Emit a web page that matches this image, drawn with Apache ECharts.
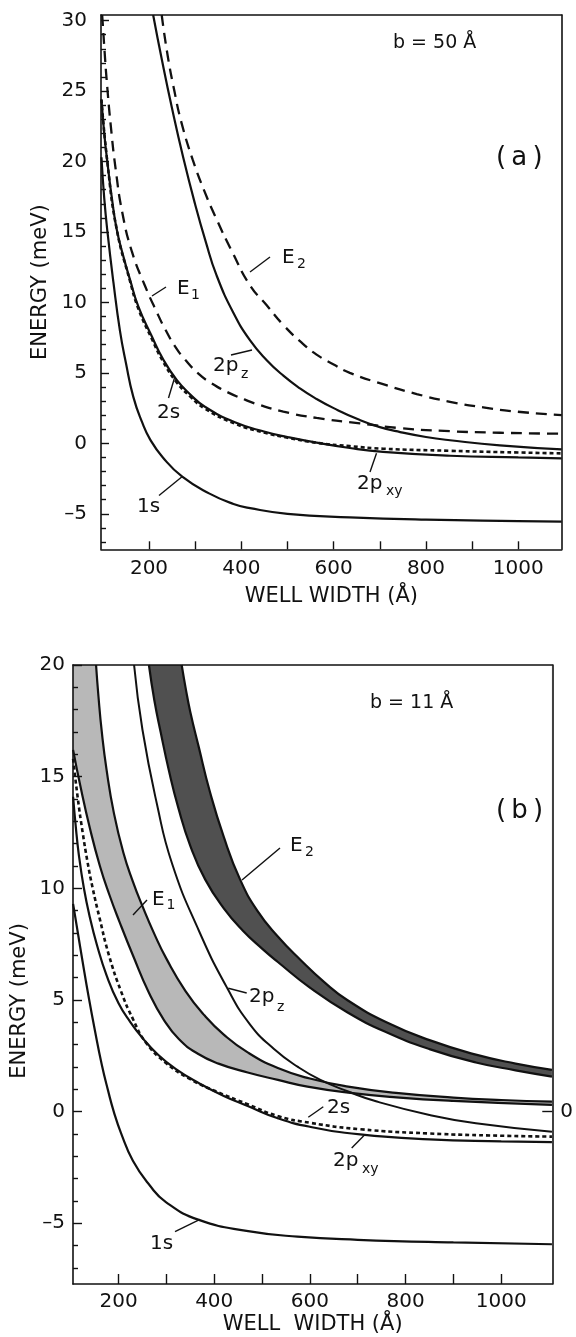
<!DOCTYPE html>
<html><head><meta charset="utf-8">
<script src="https://cdn.jsdelivr.net/npm/echarts@6/dist/echarts.min.js"></script>
<style>html,body{margin:0;padding:0;background:#fff}#c{width:576px;height:1337px}</style>
</head><body><div id="c"></div>
<script>
// ---------- tick values ----------
const xTicks = [200,300,400,500,600,700,800,900,1000];
const xLabels = [200,400,600,800,1000];
const aYMajor = [-5,0,5,10,15,20,25,30];
const aYMinor = [-7,-6,-4,-3,-2,-1,1,2,3,4,6,7,8,9,11,12,13,14,16,17,18,19,21,22,23,24,26,27,28,29];
const bYMajor = [-5,0,5,10,15,20];
const bYMinor = [-7,-6,-4,-3,-2,-1,1,2,3,4,6,7,8,9,11,12,13,14,16,17,18,19];
const bRightMark = [0];

// ---------- panel (a): b = 50 Å ----------
const a_1s = [[97,20.3],[103,17.4],[110,15.0],[123,11.4],[137,8.0],[150,5.7],[166,3.3],[185,1.5],[202,0.3],[230,-1.0],[272,-2.37],[330,-3.55],[383,-4.3],[419,-4.6],[500,-5.0],[635,-5.25],[800,-5.42],[1000,-5.52],[1094,-5.56]];
const a_2pxy = [[97,24.4],[103,22.0],[110,19.9],[120,17.3],[130,15.2],[145,13.2],[159,11.6],[177,9.7],[206,7.6],[230,6.0],[260,4.5],[290,3.45],[321,2.6],[386,1.5],[451,0.82],[500,0.45],[563,0.05],[635,-0.33],[707,-0.6],[852,-0.88],[1000,-1.0],[1094,-1.06]];
const a_2s = [[97,24.4],[110,19.9],[130,15.2],[159,11.5],[177,9.55],[206,7.42],[230,5.83],[260,4.33],[290,3.3],[321,2.46],[386,1.4],[451,0.75],[500,0.4],[563,0.04],[635,-0.2],[707,-0.38],[852,-0.53],[1000,-0.65],[1094,-0.71]];
const a_E1 = [[98.5,30.4],[101,29.2],[104,27.7],[108,25.9],[117,22.6],[128,19.4],[142,16.4],[163,13.6],[191,11.2],[217,9.3],[235,8.1],[256,6.9],[278,5.95],[307,4.95],[336,4.25],[372,3.6],[408,3.1],[437,2.75],[491,2.25],[563,1.8],[657,1.42],[744,1.08],[852,0.86],[960,0.75],[1094,0.68]];
const a_2pz = [[209,30.4],[228,27.2],[249,23.9],[274,20.3],[300,16.95],[323,14.3],[346,11.95],[383,9.25],[419,7.3],[455,5.9],[491,4.8],[527,3.9],[563,3.15],[600,2.5],[657,1.65],[700,1.15],[744,0.8],[800,0.45],[852,0.22],[960,-0.15],[1094,-0.43]];
const a_E2 = [[227.5,30.4],[240,27.6],[255,25.0],[270,22.8],[295,20.1],[320,17.9],[345,16.0],[380,13.6],[419,11.2],[455,9.8],[491,8.4],[527,7.25],[563,6.3],[600,5.6],[635,5.0],[707,4.2],[780,3.5],[852,2.95],[924,2.55],[997,2.25],[1094,2.0]];

// ---------- panel (b): b = 11 Å ----------
const b_1s = [[105,9.3],[115,8.0],[125,6.7],[137,5.2],[150,3.7],[165,2.1],[178,0.95],[190,0.0],[205,-0.95],[230,-2.2],[265,-3.3],[299,-4.05],[368,-4.85],[471,-5.35],[574,-5.6],[700,-5.74],[900,-5.86],[1106,-5.94]];
const b_2pxy = [[105,14.1],[110,12.9],[117,11.5],[127.6,10.0],[140,8.7],[155,7.45],[175,6.1],[200,4.85],[225,4.0],[250,3.3],[280,2.6],[320,1.9],[370,1.25],[420,0.7],[470,0.25],[533,-0.3],[600,-0.68],[705,-1.02],[850,-1.24],[1000,-1.33],[1106,-1.37]];
const b_2s = [[105,15.8],[115,14.0],[125,12.5],[135,11.2],[146,10.0],[160,8.7],[180,7.0],[205,5.4],[230,4.15],[257,3.1],[299,2.18],[350,1.45],[402,0.92],[470,0.33],[533,-0.2],[600,-0.5],[705,-0.79],[850,-0.98],[1000,-1.08],[1106,-1.12]];
const b_2pz = [[232.5,20],[250,17.1],[280,13.8],[312,11.1],[368,8.1],[428,5.5],[475,3.9],[525,2.8],[575,2.0],[622,1.42],[680,0.9],[740,0.45],[850,-0.15],[947,-0.52],[1106,-0.9]];
const b_E1lo = [[105,16.2],[120,14.6],[140,12.7],[161,11.0],[181,9.7],[202,8.5],[230,7.0],[264,5.3],[295,4.1],[326,3.25],[365,2.6],[409,2.15],[470,1.75],[533,1.42],[595,1.12],[680,0.85],[781,0.64],[900,0.48],[1106,0.3]];
const b_E1hi = [[153,20],[158,18.6],[165,17.0],[175,15.3],[190,13.4],[210,11.6],[230,10.3],[250,9.2],[275,7.95],[300,6.85],[340,5.4],[380,4.3],[420,3.45],[470,2.65],[533,1.95],[600,1.48],[680,1.12],[780,0.84],[900,0.63],[1000,0.52],[1106,0.45]];
const b_E2lo = [[263.5,20],[275,18.4],[288,17.0],[305,15.3],[325,13.6],[350,11.9],[381,10.4],[420,9.1],[460,8.1],[500,7.3],[533,6.7],[600,5.55],[678,4.45],[760,3.55],[850,2.8],[947,2.2],[1030,1.85],[1106,1.57]];
const b_E2hi = [[332,20],[340,19.0],[350,17.9],[368,16.3],[390,14.4],[420,12.3],[454,10.4],[490,9.0],[533,7.84],[580,6.8],[630,5.8],[678,5.0],[760,4.0],[850,3.2],[947,2.55],[1030,2.15],[1106,1.87]];

// ---------- styling ----------
const FONT = 'DejaVu Sans';
const INK = '#111';
const SOLID = 'solid', DASH = [11,7], DOT = [4,3];
const fmt = v => (v < 0 ? '\u2013' + (-v) : String(v));

function line(data, xi, yi, dash, opts) {
  opts = opts || {};
  return {
    type: 'line', data: data, xAxisIndex: xi, yAxisIndex: yi,
    showSymbol: false, symbol: 'none', smooth: 0.5, clip: true,
    animation: false, silent: true, z: opts.z || 5,
    lineStyle: { color: INK, width: opts.width || 2.2, type: dash, opacity: opts.noLine ? 0 : 1 },
    areaStyle: opts.area ? { color: opts.area, opacity: 1, origin: 'end' } : undefined
  };
}

function xAxisCfg(grid, min, max, pos, main, tickLen, margin, name, gap) {
  const c = {
    gridIndex: grid, type: 'value', min: min, max: max, position: pos, z: 10,
    axisLine: { show: true, onZero: false, lineStyle: { color: INK, width: 1.6 } },
    splitLine: { show: false },
    axisTick: { show: false }, axisLabel: { show: false }
  };
  if (main) {
    c.axisTick = { show: true, inside: true, length: tickLen, customValues: xTicks, lineStyle: { color: INK, width: 1.4 } };
    c.axisLabel = { show: true, customValues: xLabels, formatter: fmt, margin: margin, color: INK, fontSize: 20, fontFamily: FONT };
    c.name = name; c.nameLocation = 'middle'; c.nameGap = gap;
    c.nameTextStyle = { color: INK, fontSize: 21, fontFamily: FONT };
  }
  return c;
}
function yAxisCfg(grid, min, max, pos, o) {
  return {
    gridIndex: grid, type: 'value', min: min, max: max, position: pos, z: 10,
    axisLine: { show: !!o.line, onZero: false, lineStyle: { color: INK, width: 1.6 } },
    splitLine: { show: false },
    axisTick: o.ticks ? { show: true, inside: true, length: o.tickLen, customValues: o.ticks, lineStyle: { color: INK, width: 1.4 } } : { show: false },
    axisLabel: o.labels ? { show: true, customValues: o.labels, formatter: fmt, margin: o.margin, color: INK, fontSize: 20, fontFamily: FONT } : { show: false },
    name: o.name, nameLocation: 'middle', nameGap: o.nameGap, nameRotate: 90,
    nameTextStyle: { color: INK, fontSize: 21, fontFamily: FONT }
  };
}

const A = { xmin: 96, xmax: 1094, ymin: -7.52, ymax: 30.4 };
const B = { xmin: 104.8, xmax: 1106.7, ymin: -7.72, ymax: 20 };

const option = {
  backgroundColor: '#fff',
  animation: false,
  textStyle: { fontFamily: FONT },
  grid: [
    { left: 101, top: 15, width: 460.7, height: 534.3, containLabel: false },
    { left: 73, top: 665, width: 484.3, height: 619, containLabel: false }
  ],
  xAxis: [
    xAxisCfg(0, A.xmin, A.xmax, 'bottom', true, 8, 9, 'WELL WIDTH (Å)', 37),
    xAxisCfg(0, A.xmin, A.xmax, 'top', false),
    xAxisCfg(1, B.xmin, B.xmax, 'bottom', true, 10, 8, 'WELL  WIDTH (Å)', 30),
    xAxisCfg(1, B.xmin, B.xmax, 'top', false)
  ],
  yAxis: [
    yAxisCfg(0, A.ymin, A.ymax, 'left', { line: true, ticks: aYMajor, tickLen: 8, labels: aYMajor, margin: 14, name: 'ENERGY (meV)', nameGap: 47 }),
    yAxisCfg(0, A.ymin, A.ymax, 'left', { ticks: aYMinor, tickLen: 5 }),
    yAxisCfg(0, A.ymin, A.ymax, 'right', { line: true }),
    yAxisCfg(1, B.ymin, B.ymax, 'left', { line: true, ticks: bYMajor, tickLen: 9, labels: bYMajor, margin: 8 }),
    yAxisCfg(1, B.ymin, B.ymax, 'left', { ticks: bYMinor, tickLen: 5 }),
    yAxisCfg(1, B.ymin, B.ymax, 'right', { line: true, ticks: bRightMark, tickLen: 10, labels: bRightMark, margin: 8 })
  ],
  series: [
    // panel (a)
    line(a_1s, 0, 0, SOLID),
    line(a_2pxy, 0, 0, SOLID),
    line(a_2s, 0, 0, DOT, { width: 2.6, z: 6 }),
    line(a_E1, 0, 0, DASH, { width: 2.3 }),
    line(a_2pz, 0, 0, SOLID),
    line(a_E2, 0, 0, DASH, { width: 2.3 }),
    // panel (b) bands (fills)
    line(b_E1lo, 2, 3, SOLID, { area: '#b8b8b8', noLine: true, z: 1 }),
    line(b_E1hi, 2, 3, SOLID, { area: '#ffffff', noLine: true, z: 2 }),
    line(b_E2lo, 2, 3, SOLID, { area: '#505050', noLine: true, z: 3 }),
    line(b_E2hi, 2, 3, SOLID, { area: '#ffffff', noLine: true, z: 4 }),
    // panel (b) lines
    line(b_E1lo, 2, 3, SOLID),
    line(b_E1hi, 2, 3, SOLID),
    line(b_E2lo, 2, 3, SOLID),
    line(b_E2hi, 2, 3, SOLID),
    line(b_1s, 2, 3, SOLID),
    line(b_2pxy, 2, 3, SOLID),
    line(b_2s, 2, 3, DOT, { width: 2.6, z: 6 }),
    line(b_2pz, 2, 3, SOLID, { width: 2.0 })
  ]
};

// ---------- annotations (pixel layout) ----------
function txt(s, x, y, size, align) {
  return { type: 'text', z: 100, silent: true, style: { text: s, x: x, y: y, fill: INK, font: size + 'px "' + FONT + '"', align: align || 'left', verticalAlign: 'middle' } };
}
function seg(x1, y1, x2, y2) {
  return { type: 'line', z: 100, silent: true, shape: { x1: x1, y1: y1, x2: x2, y2: y2 }, style: { stroke: INK, lineWidth: 1.4 } };
}
const annotations = [
  // (a)
  txt('b = 50 Å', 393, 43, 19),
  txt('(\u2009a\u2009)', 496, 158, 26),
  txt('E', 282, 258, 20), txt('2', 297, 264, 14), seg(270, 257, 250, 272),
  txt('E', 177, 289, 20), txt('1', 191, 295, 14), seg(166, 287, 152, 296),
  txt('2p', 213, 366, 20), txt('z', 241, 374, 14), seg(231, 355, 252, 350),
  txt('2s', 157, 413, 20), seg(168.5, 398, 174.5, 378),
  txt('1s', 137, 507, 20), seg(159, 495.5, 182, 476.7),
  txt('2p', 357, 484, 20), txt('xy', 386, 491, 14), seg(370, 472, 376.5, 453.3),
  // (b)
  txt('b = 11 Å', 370, 703, 19),
  txt('(\u2009b\u2009)', 496, 811, 26),
  txt('E', 290, 846, 20), txt('2', 305, 852, 14), seg(280, 848, 242, 880),
  txt('E', 152, 900, 20), txt('1', 166.5, 905, 14), seg(147, 900, 133, 915),
  txt('2p', 249, 997, 20), txt('z', 277, 1007, 14), seg(246.7, 993, 228.3, 988.3),
  txt('2s', 327, 1108, 20), seg(323.3, 1106.7, 308.3, 1117.3),
  txt('2p', 333, 1161, 20), txt('xy', 362, 1169, 14), seg(351.7, 1148, 365, 1134.5),
  txt('1s', 150, 1244, 20), seg(175, 1231.7, 200, 1219.3),
  // (b) y-axis title
  { type: 'text', z: 100, silent: true, x: 20, y: 1001, rotation: Math.PI / 2,
    style: { text: 'ENERGY (meV)', fill: INK, font: '21px "' + FONT + '"', align: 'center', verticalAlign: 'middle' } }
];
option.graphic = { elements: annotations };

const chart = echarts.init(document.getElementById('c'), null, { renderer: 'canvas', width: 576, height: 1337 });
chart.setOption(option);
</script>
</body></html>
